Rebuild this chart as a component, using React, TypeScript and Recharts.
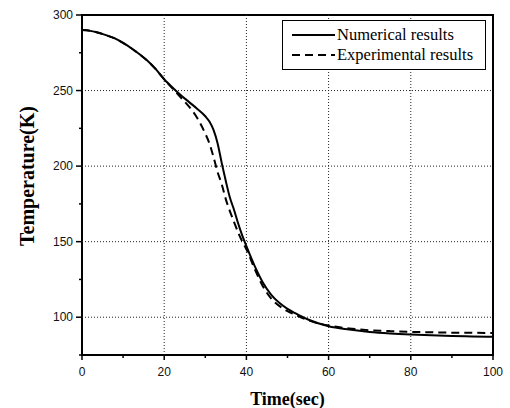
import React from 'react';
import { LineChart, Line, XAxis, YAxis, ReferenceLine, ReferenceArea, Legend } from 'recharts';

const time = [0, 2, 4, 6, 8, 10, 12, 14, 16, 18, 20, 22, 24, 26, 28, 30, 31, 32, 33, 34, 35, 36, 37, 38, 39, 40, 42, 44, 46, 48, 50, 52, 55, 60, 65, 70, 75, 80, 85, 90, 95, 100];
const numerical = [290, 289.5, 288.3, 286.5, 284.5, 281.5, 278, 274, 269.5, 264, 257.5, 252, 247, 242.5, 238, 233, 229.5, 224, 215, 202, 190, 179, 171, 162, 154, 147, 134, 123, 115, 109.5, 105.5, 102.5, 98.5, 94, 91.8, 90.2, 89.2, 88.5, 88, 87.6, 87.3, 87];
const experimental = [290, 289.5, 288.3, 286.5, 284.5, 281.5, 278, 274, 269.5, 264, 257.5, 251.5, 245.5, 239.5, 232, 221.5, 215, 206, 196, 188, 178, 170, 163, 156, 150, 145, 132, 120.5, 112.5, 107.5, 104, 101.5, 98, 94.5, 92.6, 91.4, 90.8, 90.3, 90, 89.8, 89.7, 89.6];

const xTicks = [0, 10, 20, 30, 40, 50, 60, 70, 80, 90, 100];
const yTicks = [75, 100, 125, 150, 175, 200, 225, 250, 275, 300];
const xGrid = [20, 40, 60, 80];
const yGrid = [100, 150, 200, 250];

const data = time.map((t, i) => ({ t, num: numerical[i], exp: experimental[i] }));

const tickFont = { fontFamily: '"Liberation Sans", Arial, sans-serif', fontSize: 12 };
const serif = '"Liberation Serif", "Times New Roman", serif';

const XTick = (props: any) => {
  const { x, y, payload } = props;
  const major = payload.value % 20 === 0;
  return (
    <g>
      <line x1={x} x2={x} y1={y} y2={y + (major ? 5 : 3)} stroke="#000" strokeWidth={1.5} />
      {major && (
        <text x={x} y={y + 21} textAnchor="middle" fill="#111" {...tickFont}>
          {payload.value}
        </text>
      )}
    </g>
  );
};

const YTick = (props: any) => {
  const { x, y, payload } = props;
  const major = payload.value % 50 === 0;
  return (
    <g>
      <line x1={x - (major ? 6 : 3)} x2={x} y1={y} y2={y} stroke="#000" strokeWidth={1.5} />
      {major && (
        <text x={x - 9} y={y + 4} textAnchor="end" fill="#111" {...tickFont}>
          {payload.value}
        </text>
      )}
    </g>
  );
};

const LegendBox = () => (
  <div
    style={{
      border: '1.5px solid #000',
      background: '#fff',
      width: 204,
      height: 50,
      boxSizing: 'border-box',
      fontFamily: serif,
      fontSize: 16.5,
      color: '#000',
      padding: '4px 0 0 9px',
      lineHeight: '20px',
    }}
  >
    <div style={{ display: 'flex', alignItems: 'center' }}>
      <svg width={44} height={10}>
        <line x1={0} x2={43} y1={5} y2={5} stroke="#000" strokeWidth={2} />
      </svg>
      <span style={{ marginLeft: 1 }}>Numerical results</span>
    </div>
    <div style={{ display: 'flex', alignItems: 'center' }}>
      <svg width={44} height={10}>
        <line x1={0} x2={43} y1={5} y2={5} stroke="#000" strokeWidth={2} strokeDasharray="8 5" />
      </svg>
      <span style={{ marginLeft: 1 }}>Experimental results</span>
    </div>
  </div>
);

const YLabel = (props: any) => {
  const { viewBox } = props;
  const cx = viewBox.x + 5;
  const cy = viewBox.y + viewBox.height / 2 - 9;
  return (
    <text
      x={cx}
      y={cy}
      transform={`rotate(-90 ${cx} ${cy})`}
      textAnchor="middle"
      dominantBaseline="central"
      fontFamily={serif}
      fontWeight="bold"
      fontSize={20}
      fill="#000"
    >
      Temperature(K)
    </text>
  );
};

export default function App() {
  return (
    <div style={{ position: 'absolute', left: 0, top: 0, background: '#fff' }}>
      <LineChart width={510} height={408} data={data} margin={{ top: 15, right: 17, bottom: 23, left: 22 }}>
        <XAxis
          dataKey="t"
          type="number"
          domain={[0, 100]}
          ticks={xTicks}
          height={30}
          axisLine={false}
          tickLine={false}
          tickSize={0}
          tickMargin={0}
          tick={<XTick />}
          interval={0}
          label={{
            value: 'Time(sec)',
            position: 'bottom',
            offset: 7,
            style: { fontFamily: serif, fontWeight: 'bold', fontSize: 18, fill: '#000' },
          }}
        />
        <YAxis
          type="number"
          domain={[75, 300]}
          ticks={yTicks}
          width={60}
          axisLine={false}
          tickLine={false}
          tickSize={0}
          tickMargin={0}
          tick={<YTick />}
          interval={0}
          label={<YLabel />}
        />
        {xGrid.map((v) => (
          <ReferenceLine key={'x' + v} x={v} stroke="#222" strokeWidth={1} strokeDasharray="1 2" />
        ))}
        {yGrid.map((v) => (
          <ReferenceLine key={'y' + v} y={v} stroke="#222" strokeWidth={1} strokeDasharray="1 2" />
        ))}
        <ReferenceArea x1={0} x2={100} y1={75} y2={300} fill="none" stroke="#000" strokeWidth={2} />
        <Line
          dataKey="exp"
          type="monotone"
          stroke="#000"
          strokeWidth={2}
          strokeDasharray="8 5"
          dot={false}
          isAnimationActive={false}
        />
        <Line dataKey="num" type="monotone" stroke="#000" strokeWidth={2} dot={false} isAnimationActive={false} />
        <Legend
          layout="vertical"
          align="center"
          verticalAlign="middle"
          wrapperStyle={{ top: 20, left: 282, width: 204 }}
          content={<LegendBox />}
        />
      </LineChart>
    </div>
  );
}
